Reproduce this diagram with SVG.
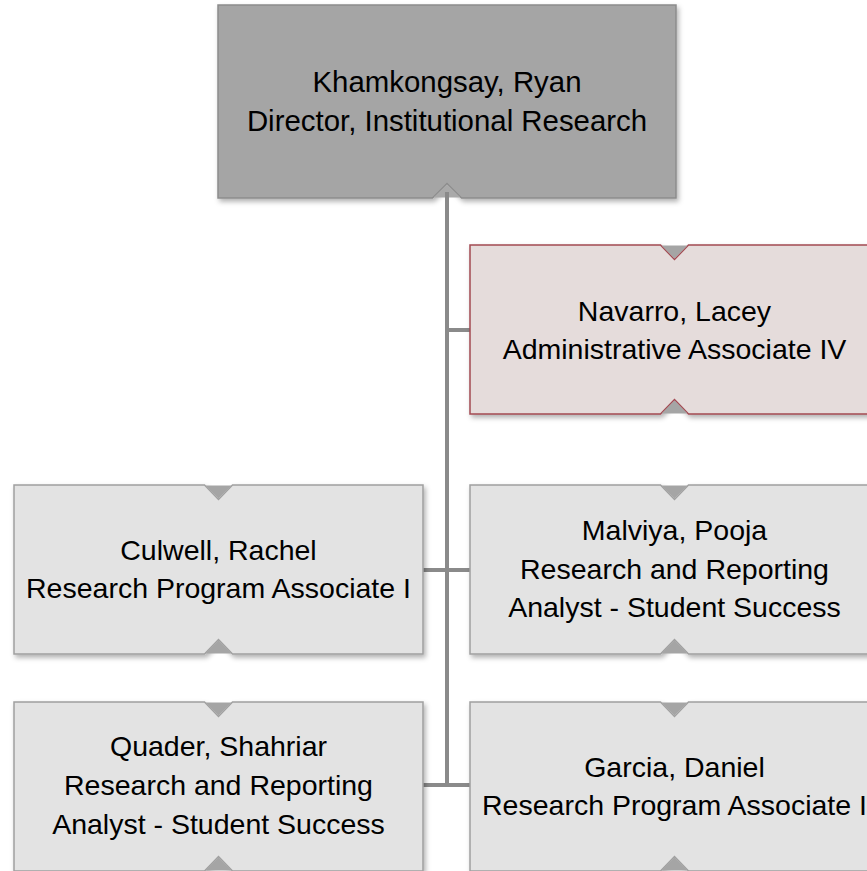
<svg xmlns="http://www.w3.org/2000/svg" width="867" height="871" viewBox="0 0 867 871">
<defs>
<filter id="sh" x="-10%" y="-10%" width="130%" height="130%">
<feDropShadow dx="2" dy="3" stdDeviation="2.5" flood-color="#000" flood-opacity="0.3"/>
</filter>
</defs>
<style>
.conn{stroke:#8a8a8a;stroke-width:4;fill:none}
.top{fill:#a5a5a5;stroke:#8c8c8c;stroke-width:1.5}
.box{fill:#e3e3e3;stroke:#a0a0a0;stroke-width:1.5}
.adm{fill:#e5dcdb;stroke:#a34a52;stroke-width:1.5}
.notch{fill:#a5a5a5;stroke:none}
text{font-family:"Liberation Sans",Arial,sans-serif;font-size:28.5px;fill:#000;text-anchor:middle}
.t1{font-size:29.4px}
</style>
<rect width="867" height="871" fill="#fff"/>
<g id="connectors">
<line class="conn" x1="447" y1="190" x2="447" y2="787"/>
<line class="conn" x1="445" y1="330" x2="472" y2="330"/>
<line class="conn" x1="421" y1="570" x2="472" y2="570"/>
<line class="conn" x1="421" y1="785" x2="472" y2="785"/>
</g>
<g id="director">
<path class="top" filter="url(#sh)" d="M218,5 H676 V198 H461.5 L447,183.5 L432.5,198 H218 Z"/>
<path d="M433.5,197.5 L447,184.5 L460.5,197.5 Z" fill="#a9a9a9"/>
<line class="conn" x1="447" y1="192" x2="447" y2="199"/>
<text class="t1" x="447" y="91.5">Khamkongsay, Ryan</text>
<text class="t1" x="447" y="130.5">Director, Institutional Research</text>
</g>
<g id="navarro">
<path class="adm" filter="url(#sh)" d="M470,245 H660.5 L674.5,259.5 L688.5,245 H879 V414 H688.5 L674.5,399.5 L660.5,414 H470 Z"/>
<path class="notch" d="M661.5,245.5 H687.5 L674.5,258.5 Z"/>
<path class="notch" d="M661.5,413.5 L674.5,400.5 L687.5,413.5 Z"/>
<text x="674.5" y="321">Navarro, Lacey</text>
<text x="674.5" y="358.5">Administrative Associate IV</text>
</g>
<g id="culwell">
<path class="box" filter="url(#sh)" d="M14,485 H204.5 L218.5,499.5 L232.5,485 H423 V654 H232.5 L218.5,639.5 L204.5,654 H14 Z"/>
<path class="notch" d="M205.5,485.5 H231.5 L218.5,498.5 Z"/>
<path class="notch" d="M205.5,653.5 L218.5,640.5 L231.5,653.5 Z"/>
<text x="218.5" y="560">Culwell, Rachel</text>
<text x="218.5" y="598">Research Program Associate I</text>
</g>
<g id="malviya">
<path class="box" filter="url(#sh)" d="M470,485 H660.5 L674.5,499.5 L688.5,485 H879 V654 H688.5 L674.5,639.5 L660.5,654 H470 Z"/>
<path class="notch" d="M661.5,485.5 H687.5 L674.5,498.5 Z"/>
<path class="notch" d="M661.5,653.5 L674.5,640.5 L687.5,653.5 Z"/>
<text x="674.5" y="539.5">Malviya, Pooja</text>
<text x="674.5" y="578.5">Research and Reporting</text>
<text x="674.5" y="617">Analyst - Student Success</text>
</g>
<g id="quader">
<path class="box" filter="url(#sh)" d="M14,702 H204.5 L218.5,716.5 L232.5,702 H423 V871 H232.5 L218.5,856.5 L204.5,871 H14 Z"/>
<path class="notch" d="M205.5,702.5 H231.5 L218.5,715.5 Z"/>
<path class="notch" d="M205.5,870.5 L218.5,857.5 L231.5,870.5 Z"/>
<text x="218.5" y="756">Quader, Shahriar</text>
<text x="218.5" y="795">Research and Reporting</text>
<text x="218.5" y="833.5">Analyst - Student Success</text>
</g>
<g id="garcia">
<path class="box" filter="url(#sh)" d="M470,702 H660.5 L674.5,716.5 L688.5,702 H879 V871 H688.5 L674.5,856.5 L660.5,871 H470 Z"/>
<path class="notch" d="M661.5,702.5 H687.5 L674.5,715.5 Z"/>
<path class="notch" d="M661.5,870.5 L674.5,857.5 L687.5,870.5 Z"/>
<text x="674.5" y="777">Garcia, Daniel</text>
<text x="674.5" y="815">Research Program Associate I</text>
</g>
</svg>
